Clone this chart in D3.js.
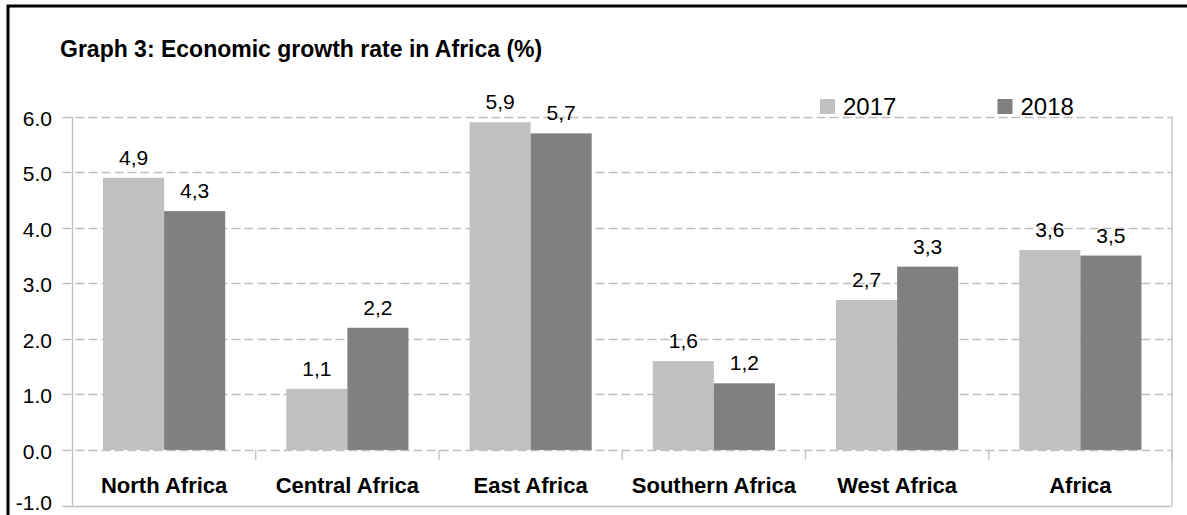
<!DOCTYPE html>
<html>
<head>
<meta charset="utf-8">
<script src="https://cdn.jsdelivr.net/npm/d3@7"></script>
<style>
  html, body { margin: 0; padding: 0; background: #fff; }
  svg { display: block; font-family: "Liberation Sans", Arial, sans-serif; }
</style>
</head>
<body>
<svg id="chart" width="1187" height="515"></svg>
<script>
const categories = ["North Africa", "Central Africa", "East Africa", "Southern Africa", "West Africa", "Africa"];
const series2017 = [4.9, 1.1, 5.9, 1.6, 2.7, 3.6];
const series2018 = [4.3, 2.2, 5.7, 1.2, 3.3, 3.5];
const seriesNames = ["2017", "2018"];
const yTicks = [-1, 0, 1, 2, 3, 4, 5, 6];
const title = "Graph 3: Economic growth rate in Africa (%)";

const colors = { "2017": "#c0c0c0", "2018": "#808080" };
const gridColor = "#bfbfbf";

const svg = d3.select("#chart");
const W = 1187, H = 515;

// outer black frame (right/bottom edges lie outside the picture)
svg.append("rect")
  .attr("x", 8).attr("y", 6)
  .attr("width", W + 20).attr("height", H + 20)
  .attr("fill", "none").attr("stroke", "#000").attr("stroke-width", 3);

const plot = { left: 72.5, right: 1172, top: 116.7, bottom: 505.5 };

const x0 = d3.scaleBand().domain(categories)
  .range([plot.left, plot.right]).paddingInner(0).paddingOuter(0);
const x1 = d3.scaleBand().domain(seriesNames)
  .range([x0.bandwidth() / 6, x0.bandwidth() * 5 / 6]).padding(0);
const y = d3.scaleLinear().domain([-1, 6]).range([plot.bottom, plot.top]);

// gridlines (dashed) for 0..6
const gridVals = yTicks.filter(v => v >= 0);
svg.append("g").selectAll("line").data(gridVals).join("line")
  .attr("x1", plot.left - 10).attr("x2", plot.right)
  .attr("y1", d => Math.round(y(d)) + 0.5).attr("y2", d => Math.round(y(d)) + 0.5)
  .attr("stroke", gridColor).attr("stroke-width", 1.3)
  .attr("stroke-dasharray", "9,4");

// bottom border (-1) solid + tick
svg.append("line")
  .attr("x1", plot.left - 10).attr("x2", plot.right)
  .attr("y1", Math.round(y(-1)) + 0.5).attr("y2", Math.round(y(-1)) + 0.5)
  .attr("stroke", gridColor).attr("stroke-width", 1.3);

// left axis & right border
svg.append("line")
  .attr("x1", plot.left).attr("x2", plot.left)
  .attr("y1", plot.top).attr("y2", plot.bottom)
  .attr("stroke", gridColor).attr("stroke-width", 1.3);
svg.append("line")
  .attr("x1", plot.right).attr("x2", plot.right)
  .attr("y1", plot.top).attr("y2", plot.bottom)
  .attr("stroke", gridColor).attr("stroke-width", 1.3);

// y axis labels
svg.append("g").selectAll("text").data(yTicks).join("text")
  .attr("x", 52).attr("y", d => Math.min(y(d) + 9, 510))
  .attr("text-anchor", "end")
  .attr("font-size", 21).attr("fill", "#000")
  .text(d => d.toFixed(1));

// category ticks at boundaries below the zero line
const boundaries = categories.slice(1).map(c => x0(c)).concat([plot.right]);
svg.append("g").selectAll("line").data(boundaries).join("line")
  .attr("x1", d => d).attr("x2", d => d)
  .attr("y1", y(0)).attr("y2", y(0) + 10)
  .attr("stroke", gridColor).attr("stroke-width", 1.3);

// bars
const rows = categories.map((c, i) => ({ cat: c, values: [
  { name: "2017", v: series2017[i] },
  { name: "2018", v: series2018[i] }
]}));

const groups = svg.append("g").selectAll("g").data(rows).join("g")
  .attr("transform", d => `translate(${x0(d.cat)},0)`);

groups.selectAll("rect").data(d => d.values).join("rect")
  .attr("x", d => x1(d.name))
  .attr("width", x1.bandwidth())
  .attr("y", d => y(d.v))
  .attr("height", d => y(0) - y(d.v))
  .attr("fill", d => colors[d.name]);

groups.selectAll("text").data(d => d.values).join("text")
  .attr("x", d => x1(d.name) + x1.bandwidth() / 2)
  .attr("y", d => y(d.v) - 13)
  .attr("text-anchor", "middle")
  .attr("font-size", 21).attr("fill", "#000")
  .text(d => d.v.toFixed(1).replace(".", ","));

// category labels
svg.append("g").selectAll("text").data(categories).join("text")
  .attr("x", d => x0(d) + x0.bandwidth() / 2)
  .attr("y", 493)
  .attr("text-anchor", "middle")
  .attr("font-size", 22).attr("font-weight", "bold").attr("fill", "#000")
  .text(d => d);

// title
svg.append("text")
  .attr("x", 60).attr("y", 57)
  .attr("font-size", 23).attr("font-weight", "bold").attr("fill", "#000")
  .text(title);

// legend
const legendX = [820, 997.5];
const leg = svg.append("g").selectAll("g").data(seriesNames).join("g")
  .attr("transform", (d, i) => `translate(${legendX[i]},99)`);
leg.append("rect").attr("width", 15).attr("height", 15)
  .attr("fill", d => colors[d]);
leg.append("text").attr("x", 23).attr("y", 16)
  .attr("font-size", 24).attr("fill", "#000")
  .text(d => d);
</script>
</body>
</html>
